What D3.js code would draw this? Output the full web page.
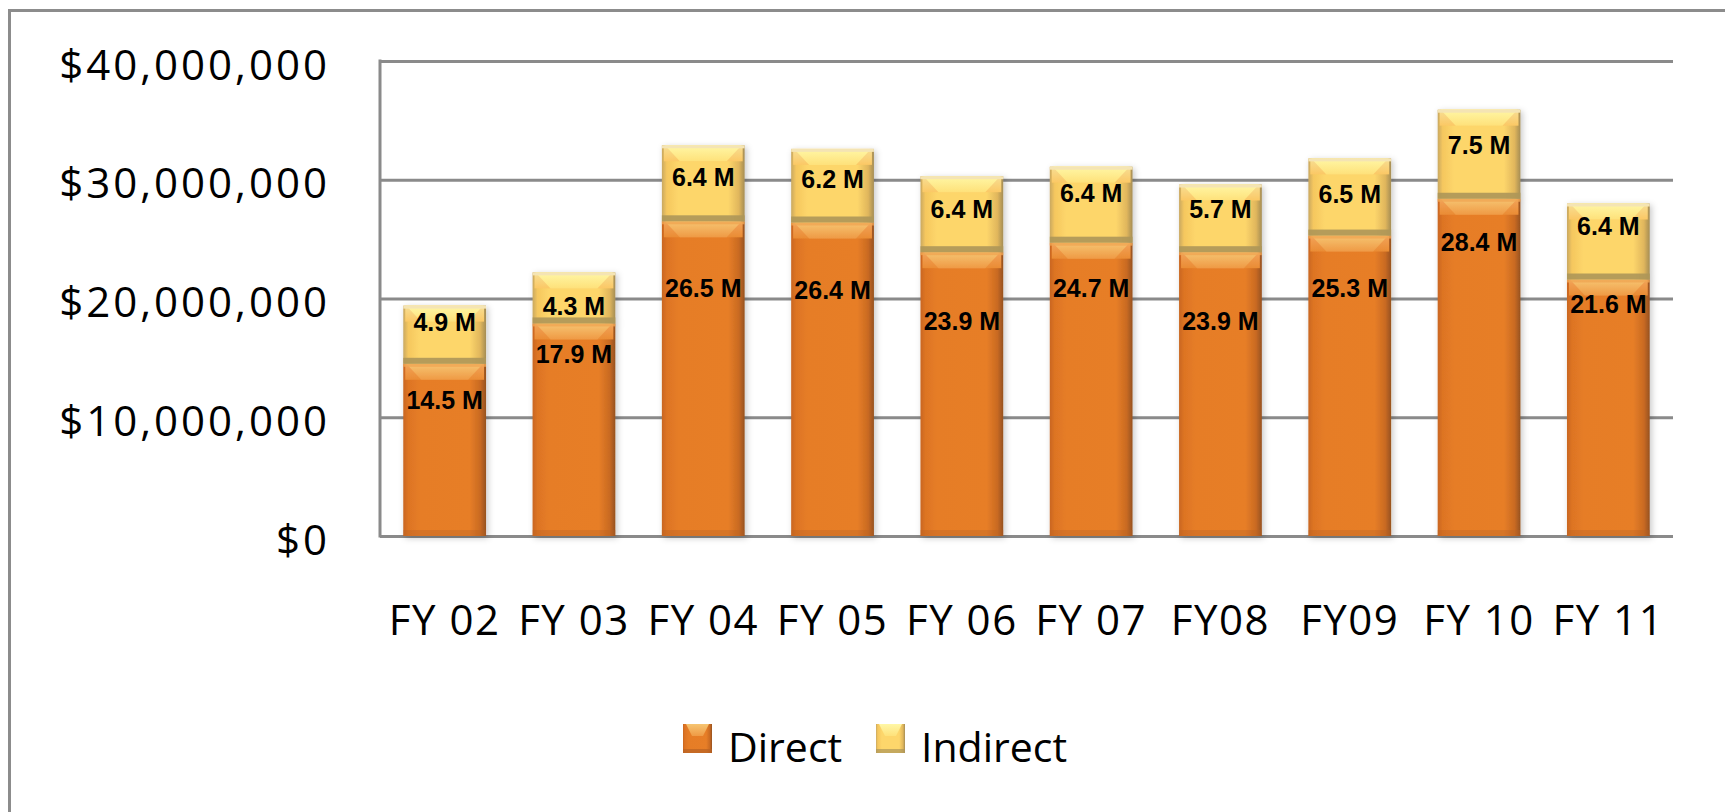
<!DOCTYPE html>
<html>
<head>
<meta charset="utf-8">
<script src="https://cdn.jsdelivr.net/npm/d3@7"></script>
<style>
  html, body { margin: 0; padding: 0; background: #fff; overflow: hidden; }
  svg { display: block; }
</style>
</head>
<body>
<script>
(function(){
    // values in millions of dollars
    var years = ["FY 02","FY 03","FY 04","FY 05","FY 06","FY 07","FY08","FY09","FY 10","FY 11"];
    var direct = [14.5, 17.9, 26.5, 26.4, 23.9, 24.7, 23.9, 25.3, 28.4, 21.6];
    var indirect = [4.9, 4.3, 6.4, 6.2, 6.4, 6.4, 5.7, 6.5, 7.5, 6.4];
    var yTicks = [0, 10000000, 20000000, 30000000, 40000000];
    var seriesNames = ["Direct", "Indirect"];

    // where the hand-placed data labels sit (in $M, label centre)
    var directLabelAt = [11.45, 15.3, 20.85, 20.75, 18.1, 20.9, 18.1, 20.9, 24.8, 19.5];
    var indirectLabelAt = [18.0, 19.4, 30.2, 30.1, 27.5, 28.9, 27.5, 28.8, 32.9, 26.1];

    var W = 1725, H = 812;
    var left = 380, right = 1673, top = 61, bottom = 536;
    var axisFont = "'Open Sans', Lato, sans-serif";

    var svg = d3.select("body").append("svg")
        .attr("width", W).attr("height", H);

    var defs = svg.append("defs");
    var f = defs.append("filter").attr("id", "shadow")
        .attr("x", "-20%").attr("y", "-10%").attr("width", "140%").attr("height", "120%");
    f.append("feDropShadow").attr("dx", 2).attr("dy", 2).attr("stdDeviation", 3)
        .attr("flood-color", "#000").attr("flood-opacity", 0.22);

    function grad(id, stops, vertical) {
        var g = defs.append("linearGradient").attr("id", id)
            .attr("x1", 0).attr("y1", 0)
            .attr("x2", vertical ? 0 : 1).attr("y2", vertical ? 1 : 0);
        stops.forEach(function(s) {
            g.append("stop").attr("offset", s[0]).attr("stop-color", s[1]);
        });
    }
    grad("dirBody", [[0, "#c9661f"], [0.06, "#dd7424"], [0.2, "#e67d26"], [0.8, "#e77e27"], [0.93, "#c96a22"], [1, "#96521f"]]);
    grad("dirTop", [[0, "#f2a35a"], [1, "#ea8c34"]], true);
    grad("dirBevel", [[0, "#f6c572"], [1, "#ef9a45"]], true);
    grad("indBody", [[0, "#c9a860"], [0.06, "#f5c75e"], [0.2, "#fdd66b"], [0.8, "#fdd66b"], [0.93, "#e0b65c"], [1, "#a58d55"]]);
    grad("indTop", [[0, "#f7df95"], [1, "#fbc865"]], true);
    grad("indBevel", [[0, "#fff7a6"], [1, "#fee17a"]], true);

    var pal = {
        Direct: { body: "url(#dirBody)", top: "url(#dirTop)", bevel: "url(#dirBevel)", base: "#b86224", edge: "#f0a552" },
        Indirect: { body: "url(#indBody)", top: "url(#indTop)", bevel: "url(#indBevel)", base: "#ad9659", edge: "#f4e4b4" }
    };

    // outer chart border (only top and left edges fall inside the picture)
    svg.append("path").attr("d", "M9.5," + H + "V10.5H" + W)
        .attr("fill", "none").attr("stroke", "#8c8c8c").attr("stroke-width", 3);

    var x = d3.scaleBand().domain(years).range([left, right])
        .paddingInner(0.36).paddingOuter(0.18);
    var y = d3.scaleLinear().domain([0, 40000000]).range([bottom, top]);

    // y axis with gridlines
    var yAxis = svg.append("g").attr("transform", "translate(" + left + ",0)")
        .call(d3.axisLeft(y).tickValues(yTicks).tickSize(-(right - left)).tickPadding(50)
            .tickFormat(function(d) { return "$" + d3.format(",")(d); }));
    yAxis.select(".domain").remove();
    yAxis.selectAll(".tick line").attr("stroke", "#8a8a8a").attr("stroke-width", 3);
    yAxis.selectAll(".tick text")
        .attr("font-family", axisFont).attr("font-size", 42)
        .attr("letter-spacing", 3)
        .attr("fill", "#000").attr("dy", "0.43em");
    svg.append("line").attr("x1", left).attr("x2", left)
        .attr("y1", y(40000000) - 1.5).attr("y2", bottom + 1.5)
        .attr("stroke", "#8a8a8a").attr("stroke-width", 3);

    // x axis labels
    var xAxis = svg.append("g").attr("transform", "translate(0," + bottom + ")")
        .call(d3.axisBottom(x).tickSize(0).tickPadding(99));
    xAxis.select(".domain").remove();
    xAxis.selectAll(".tick text")
        .attr("font-family", axisFont).attr("font-size", 42)
        .attr("letter-spacing", 1.5)
        .attr("fill", "#000").attr("dy", 0);

    function segment(g, x0, y0, w, h, p, isTop) {
        var s = g.append("g");
        s.append("rect").attr("x", x0).attr("y", y0).attr("width", w).attr("height", h)
            .attr("fill", p.body);
        var bh = Math.min(16, h / 2), inset = 18;
        s.append("rect").attr("x", x0 + 2).attr("y", y0).attr("width", w - 4).attr("height", bh)
            .attr("fill", p.top);
        s.append("polygon")
            .attr("points", [[x0 + 3, y0], [x0 + w - 3, y0], [x0 + w - inset, y0 + bh],
                [x0 + inset, y0 + bh]].join(" "))
            .attr("fill", p.bevel);
        s.append("rect").attr("x", x0).attr("y", y0).attr("width", w).attr("height", 3)
            .attr("fill", p.edge).attr("opacity", isTop ? 1 : 0.8);
        s.append("rect").attr("x", x0).attr("y", y0 + h - 6).attr("width", w).attr("height", 6)
            .attr("fill", p.base).attr("opacity", isTop ? 0.9 : 0.35);
        return s;
    }

    var rows = years.map(function(yr, i) {
        return { year: yr, direct: direct[i] * 1e6, indirect: indirect[i] * 1e6,
                 dl: directLabelAt[i] * 1e6, il: indirectLabelAt[i] * 1e6 };
    });

    var bars = svg.append("g").selectAll("g.bar").data(rows).enter()
        .append("g").attr("class", "bar").attr("filter", "url(#shadow)");

    bars.each(function(d) {
        var g = d3.select(this);
        var bx = x(d.year), bw = x.bandwidth();
        segment(g, bx, y(d.direct), bw, bottom - y(d.direct), pal.Direct, false);
        segment(g, bx, y(d.direct + d.indirect), bw, y(d.direct) - y(d.direct + d.indirect), pal.Indirect, true);
    });

    var labels = svg.append("g")
        .attr("font-family", "'Liberation Sans', Arial, sans-serif")
        .attr("font-weight", "bold").attr("font-size", 25)
        .attr("text-anchor", "middle").attr("fill", "#000");
    labels.selectAll("text.dl").data(rows).enter().append("text").attr("class", "dl")
        .attr("x", function(d) { return x(d.year) + x.bandwidth() / 2; })
        .attr("y", function(d) { return y(d.dl); }).attr("dy", "0.36em")
        .text(function(d) { return (d.direct / 1e6).toFixed(1) + " M"; });
    labels.selectAll("text.il").data(rows).enter().append("text").attr("class", "il")
        .attr("x", function(d) { return x(d.year) + x.bandwidth() / 2; })
        .attr("y", function(d) { return y(d.il); }).attr("dy", "0.36em")
        .text(function(d) { return (d.indirect / 1e6).toFixed(1) + " M"; });

    // legend
    var legendX = [683, 876];
    var lg = svg.append("g").selectAll("g").data(seriesNames).enter().append("g")
        .attr("transform", function(d, i) { return "translate(" + legendX[i] + ",724)"; });
    lg.each(function(d) {
        var g = d3.select(this), p = pal[d];
        g.append("rect").attr("width", 29).attr("height", 29).attr("fill", p.body);
        g.append("polygon").attr("points", "3,0 26,0 20,12 9,12").attr("fill", p.bevel);
        g.append("rect").attr("y", 25).attr("width", 29).attr("height", 4).attr("fill", p.base).attr("opacity", 0.7);
    });
    lg.append("text").attr("x", 45).attr("y", 38)
        .attr("font-family", axisFont).attr("font-size", 41)
        .attr("fill", "#000").text(function(d) { return d; });
})();
</script>
</body>
</html>
